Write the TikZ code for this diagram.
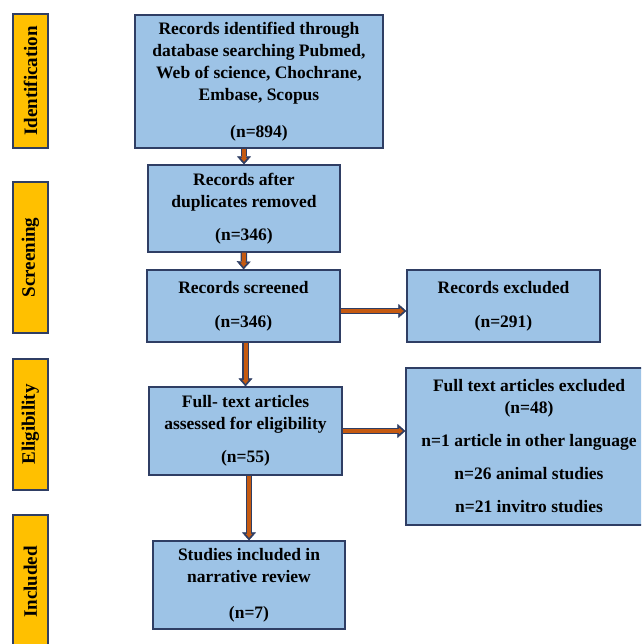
\documentclass[tikz,border=0pt]{standalone}
\usepackage{fontspec}
\setmainfont{Liberation Serif}
\usetikzlibrary{arrows.meta}
\definecolor{boxblue}{RGB}{157,195,230}
\definecolor{boxedge}{RGB}{47,62,100}
\definecolor{stagegold}{RGB}{255,192,0}
\definecolor{flowrust}{RGB}{197,90,17}

\begin{document}
\begin{tikzpicture}[x=1pt, y=-1pt,
    box/.style={draw=boxedge, fill=boxblue, line width=1.2pt, inner sep=0pt, align=center,
      font=\bfseries\fontsize{17.5}{22}\selectfont},
    stage/.style={draw=boxedge, fill=stagegold, line width=1.2pt, inner sep=0pt, rotate=90,
      minimum height=35pt, font=\bfseries\fontsize{19}{22}\selectfont},
    flow/.style={draw=boxedge, line width=6.5pt, -{Triangle[length=8pt,width=14pt,line width=0.4pt]},
      postaction={draw=flowrust, line width=4pt, -{Triangle[length=4pt,width=6.5pt,line width=0.4pt]}, shorten >=2.6pt}}]
    \useasboundingbox (0,0) rectangle (641,644);
    \clip (0,0) rectangle (641,644);
    % stage bars
    \node[stage, minimum width=134pt] (ident) at (30.5,81) {Identification};
    \node[stage, minimum width=151pt] (screen) at (30.5,257.5) {Screening};
    \node[stage, minimum width=131pt] (elig) at (30.5,424.5) {Eligibility};
    \node[stage, minimum width=134pt] (incl) at (30.5,582) {Included};
    % flow boxes
    \node[box, minimum width=248pt, minimum height=133pt] (search) at (259,81.5)
      {Records identified through\\database searching Pubmed,\\Web of science, Chochrane,\\Embase, Scopus\\[15pt](n=894)};
    \node[box, minimum width=192pt, minimum height=87pt] (dedup) at (244,208.5)
      {Records after\\duplicates removed\\[11pt](n=346)};
    \node[box, minimum width=193pt, minimum height=72pt] (screened) at (243.5,306)
      {Records screened\\[12pt](n=346)};
    \node[box, minimum width=193pt, minimum height=72pt] (excl) at (503.5,306)
      {Records excluded\\[12pt](n=291)};
    \node[box, minimum width=193pt, minimum height=88pt] (fulltext) at (245.5,431)
      {Full- text articles\\assessed for eligibility\\[11pt](n=55)};
    \node[box, minimum width=246pt, minimum height=157pt] (exclft) at (529,446.5)
      {Full text articles excluded\\(n=48)\\[11pt]n=1 article in other language\\[11pt]n=26 animal studies\\[11pt]n=21 invitro studies};
    \node[box, minimum width=192pt, minimum height=88pt] (included) at (249,585)
      {Studies included in\\narrative review\\[14pt](n=7)};
    % connectors
    \draw[flow] (search.south -| dedup.north) -- (dedup.north);
    \draw[flow] (dedup.south) -- (screened.north);
    \draw[flow] (screened.south -| fulltext.north) -- (fulltext.north);
    \draw[flow] (fulltext.south -| included.north) -- (included.north);
    \draw[flow] ([yshift=-5pt]screened.east) -- ([yshift=-5pt]screened.east -| excl.west);
    \draw[flow] (fulltext.east) -- (fulltext.east -| exclft.west);
\end{tikzpicture}
\end{document}
